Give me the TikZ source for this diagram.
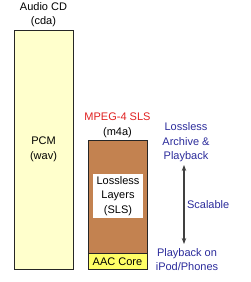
\documentclass[tikz,border=0pt]{standalone}
\usepackage{fontspec}
\setmainfont{Liberation Sans}
\usetikzlibrary{positioning, arrows.meta}
\definecolor{pcmyellow}{HTML}{FFFFCC}
\definecolor{slsbrown}{HTML}{C38250}
\definecolor{aacyellow}{HTML}{FFFF66}
\definecolor{notenavy}{HTML}{2B2B9B}
\definecolor{titlered}{HTML}{E02020}
\tikzset{
  every node/.append style={font=\fontsize{11}{14.5}\selectfont, align=center, inner sep=0pt},
  stackbox/.style={draw=black!85, line width=1pt, minimum width=59pt},
  note/.style={text=notenavy}
}

\begin{document}
\begin{tikzpicture}[x=1pt, y=-1pt]
  \useasboundingbox (0,0) rectangle (250,282);
  % left column: uncompressed audio
  \node[stackbox, fill=pcmyellow, minimum height=239pt] (pcm) at (43.5,149.5) {PCM\\(wav)};
  \node (cd) at (43.5,14.5) {Audio CD\\(cda)};
  % right column: scalable stream
  \node[stackbox, fill=slsbrown, minimum height=113.5pt] (sls) at (117.5,196.75) {};
  \node[stackbox, fill=aacyellow, minimum height=15.5pt] (aac) at (117.5,261.25) {AAC Core};
  \node[fill=white, minimum width=50pt, minimum height=44pt] (layers) at (118,196) {Lossless\\Layers\\(SLS)};
  \node (m4a) at (117.5,125.5) {\textcolor{titlered}{MPEG-4 SLS}\\(m4a)};
  % notes on the side
  \node[note] (archive) at (186,142.5) {Lossless\\Archive \&\\Playback};
  \node[note] (ipod) at (187,259.5) {Playback on\\iPod/Phones};
  \coordinate (hi) at (184,165);
  \coordinate (lo) at (184,244);
  \draw[{Stealth[length=6pt,width=4.5pt]}-{Stealth[length=6pt,width=4.5pt]}, black!75, line width=1.2pt] (hi) -- (lo)
    node[midway, right=2.5pt, note] (scal) {Scalable};
\end{tikzpicture}
\end{document}
